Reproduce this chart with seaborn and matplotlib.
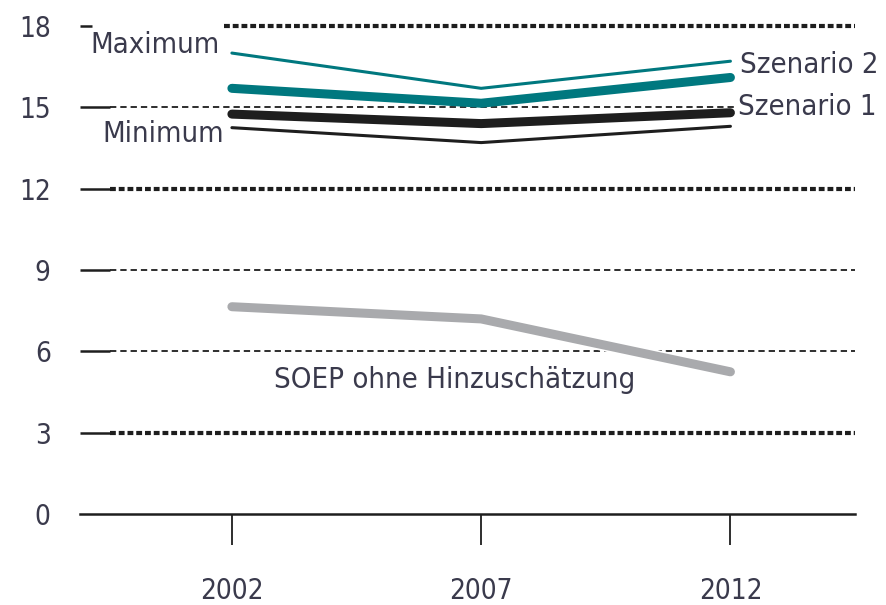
import matplotlib.pyplot as plt
import seaborn as sns
import pandas as pd

# Data
years = [2002, 2007, 2012]
maximum = [17.0, 15.7, 16.7]
szenario_2 = [15.7, 15.15, 16.1]
szenario_1 = [14.75, 14.4, 14.8]
minimum = [14.25, 13.7, 14.3]
soep = [7.65, 7.2, 5.25]

series_names = ["Maximum", "Szenario 2", "Szenario 1", "Minimum", "SOEP ohne Hinzuschätzung"]
y_ticks = [0, 3, 6, 9, 12, 15, 18]

TEAL = "#00787f"
BLACK = "#1e1e1e"
GREY = "#a9aaad"
TEXT = "#3a3a4c"

df = pd.DataFrame({
    "Jahr": years * 5,
    "Wert": maximum + szenario_2 + szenario_1 + minimum + soep,
    "Reihe": sum([[n] * len(years) for n in series_names], []),
})

sns.set_style("white")
plt.rcParams["font.family"] = ["DejaVu Sans"]
plt.rcParams["font.stretch"] = "condensed"

fig = plt.figure(figsize=(8.87, 6.05), dpi=100)
ax = fig.add_axes([0.09, 0.150, 0.874, 0.817])

x0, x1 = 1998.95, 2014.5
ax.set_xlim(x0, x1)
ax.set_ylim(0, 18.22)

# grid lines: short solid stub, then dotted/dashed
heavy = {3, 12, 18}
for t in y_ticks[1:]:
    stub_end = x0 + 0.25 if t == 18 else x0 + 0.6
    start = 2001.85 if t == 18 else stub_end
    ax.hlines(t, x0, stub_end, color=BLACK, lw=1.8, zorder=1)
    if t in heavy:
        ax.hlines(t, start, x1, color=BLACK, lw=3, linestyles=(0, (1.4, 0.7)), zorder=1)
    else:
        ax.hlines(t, start, x1, color=BLACK, lw=1.3, linestyles=(0, (3.5, 2.2)), zorder=1)

widths = {"Maximum": 2.2, "Szenario 2": 6.5, "Szenario 1": 6.5, "Minimum": 2.2,
          "SOEP ohne Hinzuschätzung": 6.5}
palette = {"Maximum": TEAL, "Szenario 2": TEAL, "Szenario 1": BLACK, "Minimum": BLACK,
           "SOEP ohne Hinzuschätzung": GREY}
for name in series_names:
    if name == "SOEP ohne Hinzuschätzung":
        # white halo where the grey line crosses the grid
        sns.lineplot(data=df[df["Reihe"] == name], x="Jahr", y="Wert", color="white",
                     lw=9, ax=ax, legend=False, zorder=2, solid_capstyle="round")
    sns.lineplot(data=df[df["Reihe"] == name], x="Jahr", y="Wert", color=palette[name],
                 lw=widths[name], ax=ax, legend=False, zorder=3,
                 solid_capstyle="round", solid_joinstyle="miter")

box = dict(facecolor="white", edgecolor="none", pad=1)
lbl = dict(fontsize=21, color=TEXT, zorder=4, bbox=box)
ax.text(2001.75, 17.3, "Maximum", ha="right", va="center", **lbl)
ax.text(2001.85, 14.0, "Minimum", ha="right", va="center", **lbl)
ax.text(2012.2, 16.55, "Szenario 2", ha="left", va="center", **lbl)
ax.text(2012.15, 15.0, "Szenario 1", ha="left", va="center", **lbl)
ax.text(2002.85, 4.95, "SOEP ohne Hinzuschätzung", ha="left", va="center",
        fontsize=21, color=TEXT, zorder=4)

ax.set_yticks(y_ticks)
ax.set_xticks(years)
ax.tick_params(axis="y", left=False, length=0, pad=21, labelsize=20, labelcolor=TEXT)
ax.tick_params(axis="x", bottom=True, length=22, width=1.3, color=BLACK, direction="out",
               pad=23, labelsize=20, labelcolor=TEXT)
ax.set_xlabel("")
ax.set_ylabel("")

for s in ["top", "right", "left"]:
    ax.spines[s].set_visible(False)
ax.spines["bottom"].set_color(BLACK)
ax.spines["bottom"].set_linewidth(1.8)

fig.savefig("out.png", dpi=100)
